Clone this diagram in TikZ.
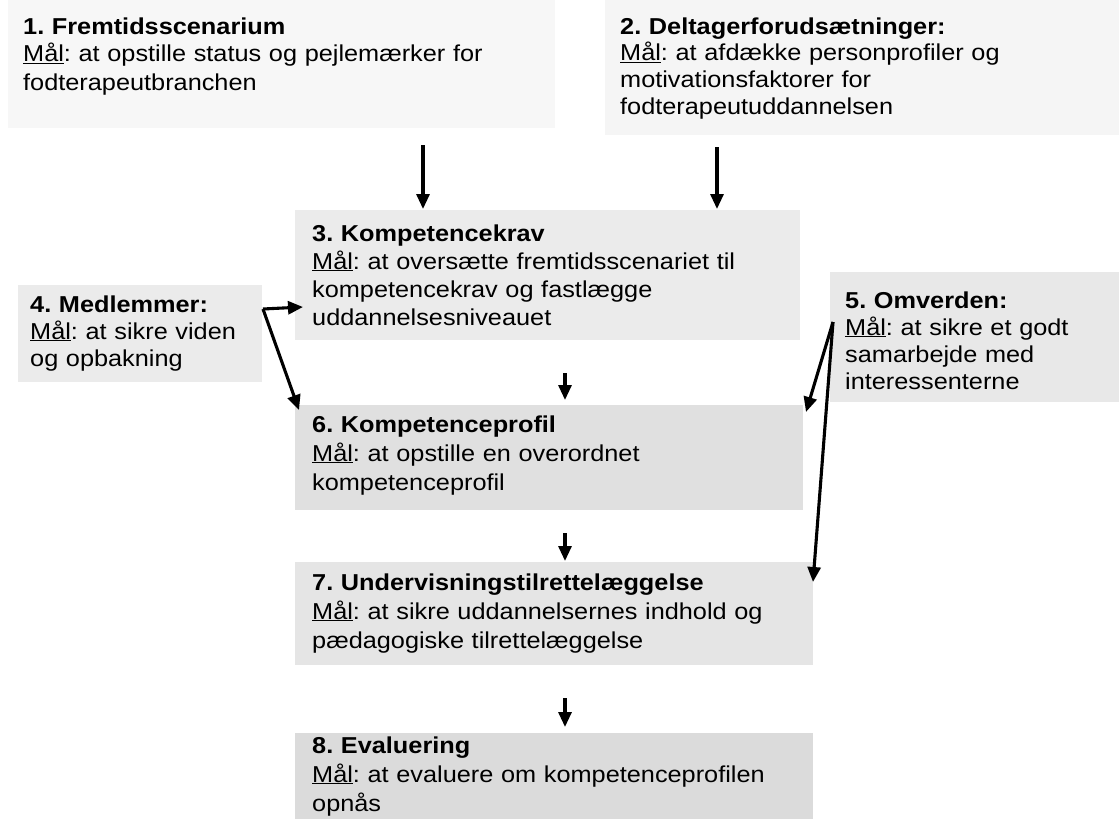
\documentclass[tikz,border=0pt]{standalone}
\usepackage{fontspec}
\setmainfont{Liberation Sans}[FakeStretch=1.1]
\usetikzlibrary{arrows.meta}
\frenchspacing
\begin{document}
\begin{tikzpicture}[x=1pt,y=-1pt,
  bg/.style={fill=black!#1, draw=none, inner sep=0pt, anchor=north west},
  txt/.style={anchor=base west, inner sep=0pt, text width=560pt, align=left, font=\fontsize{23}{#1}\selectfont},
  arr/.style={line width=3.1pt, -{Triangle[length=15pt,width=13pt]}}]
\useasboundingbox (0,0) rectangle (1119,819);
% backgrounds
\node[bg=3, minimum width=547pt, minimum height=128pt] (b1) at (8,0) {};
\node[bg=4, minimum width=514pt, minimum height=135pt] (b2) at (605,0) {};
\node[bg=8, minimum width=505pt, minimum height=130pt] (b3) at (295,210) {};
\node[bg=8, minimum width=244pt, minimum height=97pt] (b4) at (18,285) {};
\node[bg=9, minimum width=289pt, minimum height=130pt] (b5) at (830,272) {};
\node[bg=12, minimum width=508pt, minimum height=105pt] (b6) at (295,405) {};
\node[bg=10, minimum width=518pt, minimum height=103pt] (b7) at (295,562) {};
\node[bg=14, minimum width=518pt, minimum height=86pt] (b8) at (295,733) {};
% texts
\node[txt=28] (t1) at (23,34) {\textbf{1. Fremtidsscenarium}\\\underline{Mål}: at opstille status og pejlemærker for\\fodterapeutbranchen};
\node[txt=27] (t2) at (620,34) {\textbf{2. Deltagerforudsætninger:}\\\underline{Mål}: at afdække personprofiler og\\motivationsfaktorer for\\fodterapeutuddannelsen};
\node[txt=28] (t3) at (312,241) {\textbf{3. Kompetencekrav}\\\underline{Mål}: at oversætte fremtidsscenariet til\\kompetencekrav og fastlægge\\uddannelsesniveauet};
\node[txt=27] (t4) at (30,312) {\textbf{4. Medlemmer:}\\\underline{Mål}: at sikre viden\\og opbakning};
\node[txt=27] (t5) at (845,308) {\textbf{5. Omverden:}\\\underline{Mål}: at sikre et godt\\samarbejde med\\interessenterne};
\node[txt=29] (t6) at (312,432) {\textbf{6. Kompetenceprofil}\\\underline{Mål}: at opstille en overordnet\\kompetenceprofil};
\node[txt=29] (t7) at (312,590) {\textbf{7. Undervisningstilrettelæggelse}\\\underline{Mål}: at sikre uddannelsernes indhold og\\pædagogiske tilrettelæggelse};
\node[txt=29] (t8) at (312,753) {\textbf{8. Evaluering}\\\underline{Mål}: at evaluere om kompetenceprofilen\\opnås};
% connector points
\coordinate (s13) at (423,145); \coordinate (e13) at (423,209);
\coordinate (s23) at (717,147); \coordinate (e23) at (717,209);
\coordinate (s36) at (565,373); \coordinate (e36) at (565,400);
\coordinate (s67) at (565,533); \coordinate (e67) at (565,561);
\coordinate (s78) at (565,698); \coordinate (e78) at (565,727);
\coordinate (o4) at (263,309); \coordinate (e43) at (303,307); \coordinate (e46) at (299,410);
\coordinate (o5) at (833,322); \coordinate (e56) at (806,412); \coordinate (e57) at (813,582);
% connectors
\draw[arr] (s13) -- (e13);
\draw[arr] (s23) -- (e23);
\draw[arr] (s36) -- (e36);
\draw[arr] (s67) -- (e67);
\draw[arr] (s78) -- (e78);
\draw[arr] (o4) -- (e43);
\draw[arr] (o4) -- (e46);
\draw[arr] (o5) -- (e56);
\draw[arr] (o5) -- (e57);
\end{tikzpicture}
\end{document}
